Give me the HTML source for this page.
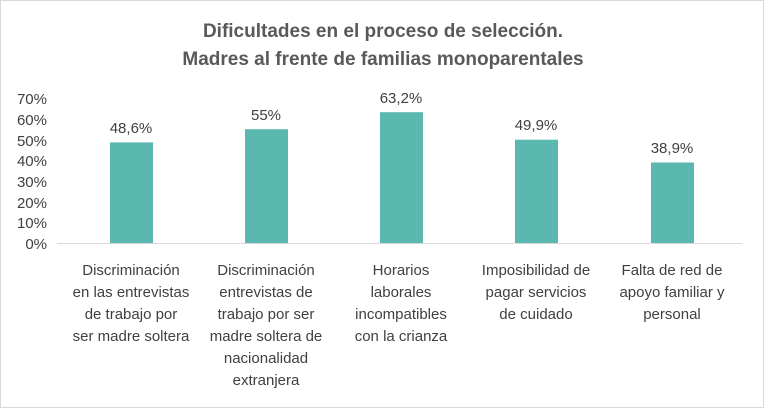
<!DOCTYPE html>
<html><head><meta charset="utf-8"><style>
body{margin:0;background:#fff;}
svg text{font-family:"Liberation Sans",sans-serif;fill:#404040;}
</style></head><body>
<svg width="764" height="408" xmlns="http://www.w3.org/2000/svg">
<rect x="0.5" y="0.5" width="763" height="407" fill="#fff" stroke="#d9d9d9"/>
<text x="383" y="37" text-anchor="middle" font-size="19" font-weight="bold" style="fill:#595959">Dificultades en el proceso de selección.</text>
<text x="383" y="65" text-anchor="middle" font-size="19" font-weight="bold" style="fill:#595959">Madres al frente de familias monoparentales</text>
<g font-size="15" text-anchor="end">
<text x="47" y="104">70%</text><text x="47" y="125">60%</text><text x="47" y="146">50%</text>
<text x="47" y="166">40%</text><text x="47" y="187">30%</text><text x="47" y="208">20%</text>
<text x="47" y="228">10%</text><text x="47" y="249">0%</text>
</g>
<line x1="57" y1="243.5" x2="742" y2="243.5" stroke="#d9d9d9"/>
<g fill="#5bb8b1">
<rect x="110" y="142.4" width="43" height="100.6"/>
<rect x="245" y="129.2" width="43" height="113.8"/>
<rect x="380" y="112.2" width="43" height="130.8"/>
<rect x="515" y="139.7" width="43" height="103.3"/>
<rect x="651" y="162.5" width="43" height="80.5"/>
</g>
<g font-size="15" text-anchor="middle">
<text x="131" y="133">48,6%</text><text x="266" y="120">55%</text><text x="401" y="103">63,2%</text>
<text x="536" y="130">49,9%</text><text x="672" y="153">38,9%</text>
</g>
<g font-size="15" text-anchor="middle">
<text x="131" y="275">Discriminación</text><text x="131" y="297">en las entrevistas</text><text x="131" y="319">de trabajo por</text><text x="131" y="341">ser madre soltera</text>
<text x="266" y="275">Discriminación</text><text x="266" y="297">entrevistas de</text><text x="266" y="319">trabajo por ser</text><text x="266" y="341">madre soltera de</text><text x="266" y="363">nacionalidad</text><text x="266" y="385">extranjera</text>
<text x="401" y="275">Horarios</text><text x="401" y="297">laborales</text><text x="401" y="319">incompatibles</text><text x="401" y="341">con la crianza</text>
<text x="536" y="275">Imposibilidad de</text><text x="536" y="297">pagar servicios</text><text x="536" y="319">de cuidado</text>
<text x="672" y="275">Falta de red de</text><text x="672" y="297">apoyo familiar y</text><text x="672" y="319">personal</text>
</g>
</svg>
</body></html>
